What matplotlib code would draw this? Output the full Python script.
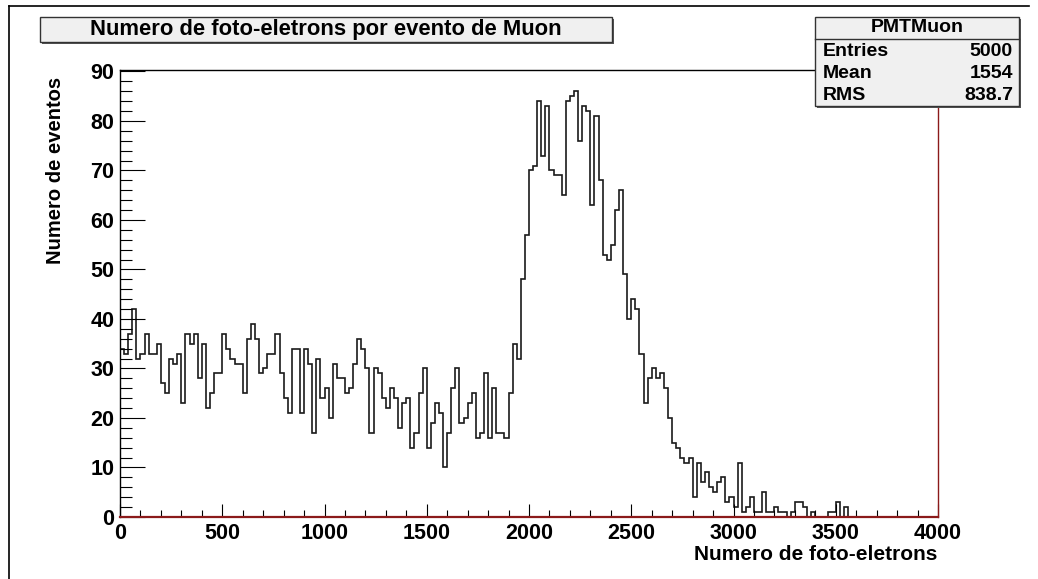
import matplotlib
matplotlib.use('Agg')
import matplotlib.pyplot as plt
import matplotlib.patches as patches
from matplotlib.ticker import MultipleLocator
import numpy as np

plt.rcParams['font.family'] = ['Liberation Sans', 'DejaVu Sans']
plt.rcParams['font.weight'] = 'bold'

# histogram: 200 bins of 20 photo-electrons from 0 to 4000
bin_edges = np.arange(0, 4001, 20)
counts = [34, 33, 37, 42, 32, 33, 37, 33, 33, 35,
          27, 25, 32, 31, 33, 23, 37, 35, 37, 28,
          35, 22, 25, 29, 29, 37, 34, 32, 31, 31,
          25, 36, 39, 36, 29, 30, 33, 33, 37, 29,
          24, 21, 34, 34, 21, 34, 31, 17, 32, 24,
          26, 20, 31, 28, 28, 25, 26, 31, 36, 34,
          30, 17, 30, 29, 24, 22, 26, 24, 18, 23,
          24, 14, 17, 25, 30, 14, 19, 23, 21, 10,
          17, 26, 30, 19, 20, 23, 25, 16, 17, 29,
          16, 26, 17, 17, 16, 25, 35, 32, 48, 57,
          70, 71, 84, 73, 83, 70, 69, 69, 65, 84,
          85, 86, 76, 83, 82, 63, 81, 68, 53, 52,
          55, 62, 66, 49, 40, 44, 42, 33, 23, 28,
          30, 28, 29, 26, 20, 15, 14, 12, 11, 12,
          4, 11, 7, 9, 6, 5, 7, 8, 3, 4,
          2, 11, 1, 2, 4, 1, 1, 5, 1, 1,
          2, 1, 1, 0, 1, 3, 3, 2, 0, 1,
          0, 0, 0, 1, 1, 3, 0, 2, 0, 0] + [0] * 20

title = 'Numero de foto-eletrons por evento de Muon'
xlabel = 'Numero de foto-eletrons'
ylabel = 'Numero de eventos'
stats_name = 'PMTMuon'
stats_rows = [('Entries', '5000'), ('Mean', '1554'), ('RMS', '838.7')]

W, H = 1038, 579
fig = plt.figure(figsize=(W / 100, H / 100), dpi=100)
fig.patch.set_facecolor('white')

def fx(px):
    return px / W

def fy(py):
    return 1 - py / H

red = '#8b1a1a'

ax = fig.add_axes([fx(120), fy(517), fx(938) - fx(120), fy(70) - fy(517)])
ax.stairs(counts, bin_edges, color='#1a1a1a', lw=1.2)
ax.set_xlim(0, 4000)
ax.set_ylim(0, 90.3)

ax.spines['left'].set_color('black')
ax.spines['top'].set_color('black')
ax.spines['bottom'].set_color(red)
ax.spines['right'].set_color(red)
for s in ax.spines.values():
    s.set_linewidth(1.0)
ax.spines['bottom'].set_linewidth(1.6)

ax.xaxis.set_major_locator(MultipleLocator(500))
ax.xaxis.set_minor_locator(MultipleLocator(100))
ax.yaxis.set_major_locator(MultipleLocator(10))
ax.yaxis.set_minor_locator(MultipleLocator(2))
ax.tick_params(axis='x', which='major', direction='in', length=9.5, width=0.8,
               labelsize=15.5, pad=4, colors='black')
ax.tick_params(axis='x', which='minor', direction='in', length=5, width=0.8)
ax.tick_params(axis='y', which='major', direction='in', length=18, width=0.8,
               labelsize=15.5, pad=4)
ax.tick_params(axis='y', which='minor', direction='in', length=8.5, width=0.8)
for lab in ax.get_xticklabels() + ax.get_yticklabels():
    lab.set_fontweight('bold')

# canvas border (top and left)
fig.add_artist(plt.Line2D([fx(9), fx(1029)], [fy(6), fy(6)], color='black', lw=1.2))
fig.add_artist(plt.Line2D([fx(9), fx(9)], [fy(6), 0], color='black', lw=1.2))

# title box with shadow
def box(x0, y0, x1, y1):
    fig.add_artist(patches.Rectangle((fx(x0 + 2), fy(y1 + 2)), fx(x1 - x0), fy(y0) - fy(y1),
                                     facecolor='#555555', edgecolor='none'))
    fig.add_artist(patches.Rectangle((fx(x0), fy(y1)), fx(x1 - x0), fy(y0) - fy(y1),
                                     facecolor='#f0f0f0', edgecolor='#333333', lw=1.0))

box(40, 17, 612, 42)
fig.text(fx(326), fy(30), title, ha='center', va='center', fontsize=15.8, fontweight='bold')

# stats box
box(815, 17, 1019, 106)
fig.add_artist(plt.Line2D([fx(815), fx(1019)], [fy(39), fy(39)], color='#333333', lw=1.0))
fig.text(fx(917), fy(28), stats_name, ha='center', va='center', fontsize=14, fontweight='bold')
for i, (name, val) in enumerate(stats_rows):
    yy = fy(51 + i * 22)
    fig.text(fx(823), yy, name, ha='left', va='center', fontsize=14, fontweight='bold')
    fig.text(fx(1013), yy, val, ha='right', va='center', fontsize=14, fontweight='bold')

fig.text(fx(56), fy(77), ylabel, rotation=90, ha='center', va='top', fontsize=14.5, fontweight='bold')
fig.text(fx(937), fy(555), xlabel, ha='right', va='center', fontsize=15, fontweight='bold')

fig.savefig('out.png', dpi=100, facecolor='white')
